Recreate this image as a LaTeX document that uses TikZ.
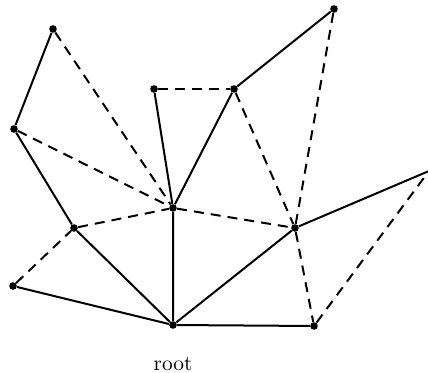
\documentclass[tikz,border=0pt]{standalone}
\usetikzlibrary{positioning}

\begin{document}
\begin{tikzpicture}[x=0.5pt,y=-0.5pt,
  vtx/.style={circle,fill,inner sep=0pt,minimum size=3.8pt},
  treeedge/.style={line width=1pt},
  backedge/.style={line width=1pt,dash pattern=on 5pt off 3.5pt}]
\useasboundingbox (0,0) rectangle (428,373);
% vertices (pixel grid of the figure, y downwards)
\node[vtx] (a) at (53,29) {};
\node[vtx] (b) at (14,129) {};
\node[vtx] (c) at (74,228) {};
\node[vtx] (d) at (13,286) {};
\node[vtx] (root) at (173,325) {};
\node[vtx] (e) at (173,208) {};
\node[vtx] (f) at (154,89) {};
\node[vtx] (g) at (234,89) {};
\node[vtx] (h) at (334,9) {};
\node[vtx] (i) at (295,228) {};
\node[vtx] (k) at (314,326) {};
\coordinate (j) at (429,171);
\node[below=10.5pt of root,font=\fontsize{10.7}{13}\selectfont] (rootlab) {root};
% tree edges
\draw[treeedge] (a) -- (b) -- (c) -- (root);
\draw[treeedge] (d) -- (root);
\draw[treeedge] (root) -- (e) -- (f);
\draw[treeedge] (e) -- (g) -- (h);
\draw[treeedge] (root) -- (i) -- (j);
\draw[treeedge] (root) -- (k);
% non-tree edges
\draw[backedge] (a) -- (e);
\draw[backedge] (b) -- (e);
\draw[backedge] (c) -- (e);
\draw[backedge] (d) -- (c);
\draw[backedge] (f) -- (g);
\draw[backedge] (e) -- (i);
\draw[backedge] (g) -- (i);
\draw[backedge] (h) -- (i);
\draw[backedge] (i) -- (k);
\draw[backedge] (k) -- (j);
\end{tikzpicture}
\end{document}
